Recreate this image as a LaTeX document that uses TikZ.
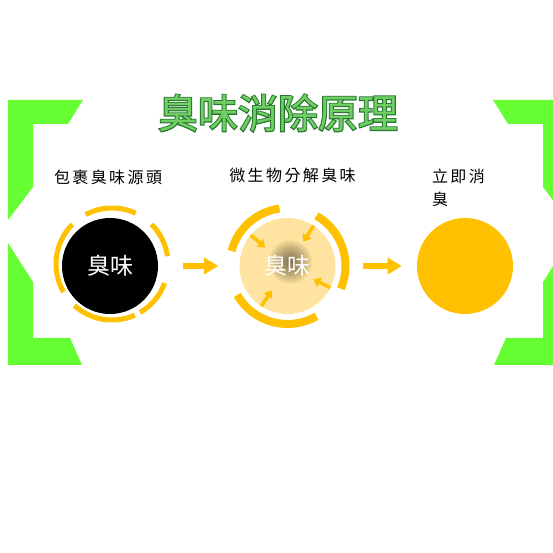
\documentclass[tikz,border=0pt]{standalone}
\usepackage{fontspec}
\usepackage{tikz}
\usetikzlibrary{arrows.meta, positioning}

\newfontfamily\cjk{Noto Sans CJK TC}
\newfontfamily\cjkthick[FakeBold=5]{Noto Sans CJK TC}
\newfontfamily\cjkwide[LetterSpace=15]{Noto Sans CJK TC}

\definecolor{gold}{RGB}{255,192,0}
\definecolor{pale}{RGB}{254,228,160}
\definecolor{brgreen}{RGB}{102,255,51}
\definecolor{titlefill}{RGB}{112,206,100}
\definecolor{titleedge}{RGB}{38,120,48}

\begin{document}
\begin{tikzpicture}[
            x = 1pt, y = 1pt,
            node distance = 177.5pt, % distance between circles
            semithick % line style
        ]

        \tikzstyle{blob}=[
            circle,
            minimum size = 96pt,
            inner sep = 0pt,
            text = white,
            font = \cjk\fontsize{23}{23}\selectfont
        ]
        \tikzstyle{caption}=[inner sep = 0pt, font = \cjkwide\fontsize{16}{23}\selectfont]
        \tikzstyle{bracket}=[fill = brgreen]
        \tikzstyle{ring}=[draw = gold, line width = 5pt]
        \tikzstyle{swirl}=[draw = gold, line width = 8pt]
        \tikzstyle{inarrow}=[draw = gold, line width = 3.5pt, -{Triangle[width=10pt, length=7pt]}]
        \tikzstyle{flow}=[draw = gold, line width = 5.5pt, -{Triangle[width=16pt, length=14pt]}]

        \useasboundingbox (0,0) rectangle (553,553);
        \clip (0,0) rectangle (553,553);

        % green frame
        \fill[bracket] (8,453) -- (83,453) -- (68,429) -- (33,429) -- (33,366) -- (8,333) -- cycle;
        \fill[bracket] (8,310) -- (33,271) -- (33,215) -- (70,215) -- (82,188) -- (8,188) -- cycle;
        \fill[bracket] (568,453) -- (493,453) -- (508,429) -- (543,429) -- (543,366) -- (568,333) -- cycle;
        \fill[bracket] (568,310) -- (543,271) -- (543,215) -- (506,215) -- (494,188) -- (568,188) -- cycle;

        % title
        \node[text = titleedge, font = \cjkthick\fontsize{40}{40}\selectfont] (titleback) at (278,440) {臭味消除原理};
        \node[text = titlefill, font = \cjk\fontsize{40}{40}\selectfont] (title) at (278,440) {臭味消除原理};

        \node[blob, fill = black] (smell) at (110,287) {臭味};
        \node[blob, fill = pale, right of=smell,
            path picture = {\foreach \r in {2,...,22}
                \fill[black, opacity = 0.028] ([shift={(3,4)}]path picture bounding box.center) circle (\r pt);}] (decomp) {臭味};
        \node[blob, fill = gold, right of=decomp] (clean) {};

        \node[caption, above of=smell, node distance=89pt, xshift=-2pt] (wrap) {包裹臭味源頭};
        \node[caption, above of=decomp, node distance=91pt, xshift=5pt] (microbe) {微生物分解臭味};
        \node[caption, above of=clean, node distance=78pt, xshift=-3pt,
            text width=60pt, align=left] (instant) {立即消\\臭};

        \foreach \from/\to in {65/118, 135/210, 228/294, 300/340, 8/45}
            \draw[ring] ([shift={(2,2)}]smell.center) ++(\from:56) arc[start angle=\from, end angle=\to, radius=56];

        \foreach \from/\to in {98/165, -23/60, 210/300}
            \draw[swirl] (decomp.center) ++(\from:58) arc[start angle=\from, end angle=\to, radius=58];

        \foreach \a in {140, 57, -27, 237}
            \draw[inarrow] ([shift={(\a:48)}]decomp.center) -- ([shift={(\a:29)}]decomp.center);

        \draw[flow, shorten <=25pt, shorten >=21pt] (smell) -- (decomp);
        \draw[flow, shorten <=27pt, shorten >=15pt] (decomp) -- (clean);

  \end{tikzpicture}
\end{document}
